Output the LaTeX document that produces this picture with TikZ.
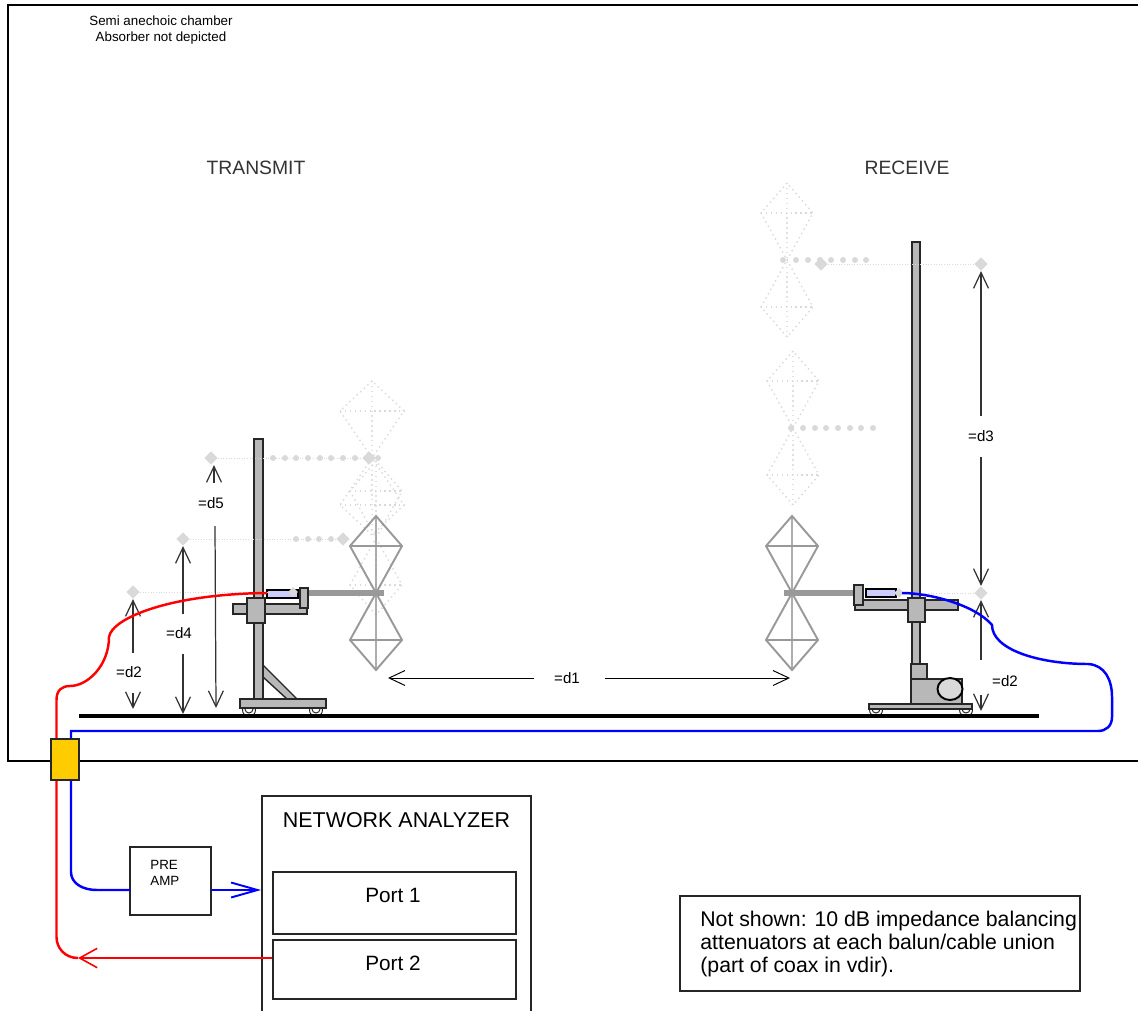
\documentclass[tikz,border=0pt]{standalone}
\usepackage{fontspec}
\setmainfont{Liberation Sans}
\usetikzlibrary{arrows.meta,shapes.geometric}
\definecolor{partgray}{HTML}{B8B8B8}
\definecolor{fadegray}{HTML}{D9D9D9}
\definecolor{balunblue}{HTML}{CCCCFF}
\definecolor{feedyellow}{HTML}{FFCC00}
\tikzset{
	part/.style={draw=black!85, fill=partgray, line width=0.8pt},
	wheel/.style={draw=black!85, line width=0.55pt},
	boxline/.style={draw=black!85, line width=1.1pt, inner sep=0pt},
	fadedant/.style={draw=fadegray, line width=0.8pt, dotted},
	solidant/.style={draw=black!40, line width=1.1pt},
	guide/.style={draw=fadegray, line width=0.5pt, densely dotted},
	marker/.style={diamond, fill=fadegray, inner sep=0pt, minimum size=0.27cm},
	dimline/.style={draw=black!80, line width=0.7pt, -{Straight Barb[length=9pt,width=8.5pt]}},
	dimtext/.style={font=\fontsize{8.6pt}{10pt}\selectfont},
	bigtext/.style={font=\fontsize{11.8pt}{13pt}\selectfont},
	headtext/.style={font=\fontsize{11pt}{13pt}\selectfont, text=black!80},
	redcable/.style={draw=red, line width=1.4pt},
	bluecable/.style={draw=blue, line width=1.4pt}
}

\begin{document}
\begin{tikzpicture}[x=0.02cm, y=-0.02cm, line cap=butt, line join=miter]
	\useasboundingbox (0,0) rectangle (1138,1010);
	
	% Chamber, open past the right edge
	\draw[line width=1.1pt] (1150,5) -- (8,5) -- (8,761) -- (1150,761);
	\node[font=\fontsize{7.6pt}{9.1pt}\selectfont, align=center] (chamber) at (161,30) {Semi anechoic chamber\\Absorber not depicted};
	\node[headtext] (transmit) at (256,168) {TRANSMIT};
	\node[headtext] (receive) at (907,168) {RECEIVE};
	
	% Biconical antennas, the raised positions first
	\foreach \cx/\cy/\hw/\kind in {372/458/32/fadedant, 376/538/26/fadedant, 787/260/26/fadedant, 793/428/26/fadedant, 376/593/26/solidant, 792/593/26/solidant} {
		\draw[\kind] (\cx,\cy-77) -- (\cx-\hw,\cy-47) -- (\cx+\hw,\cy+47) -- (\cx,\cy+77) -- (\cx-\hw,\cy+47) -- (\cx+\hw,\cy-47) -- cycle;
		\draw[\kind] (\cx-\hw,\cy-47) -- (\cx+\hw,\cy-47);
		\draw[\kind] (\cx-\hw,\cy+47) -- (\cx+\hw,\cy+47);
		\draw[\kind, draw opacity=0.8, line width=0.7pt] (\cx,\cy-77) -- (\cx,\cy+77);
	}
	
	% Transmit stand
	\foreach \wx in {249,316} {
		\draw[wheel, fill=white] (\wx,710) circle [radius=6.5];
		\draw[wheel] (\wx,709) circle [radius=4];
	}
	\draw[part] (263,665) -- (297,699) -- (287,699) -- (263,677) -- cycle;
	\draw[part] (254,439) rectangle (263,700);
	\draw[part] (240,699) rectangle (326,708);
	\draw[part] (233,604) rectangle (307,614);
	\draw[part] (247,598) rectangle (265,623);
	\draw[fill=balunblue, line width=0.8pt] (267,590) rectangle (298,598);
	\fill[black!40] (308,590) rectangle (384,596);
	\draw[part] (300,588) rectangle (308,608);
	
	% Receive stand
	\foreach \wx in {876,966} {
		\draw[wheel, fill=white] (\wx,710) circle [radius=6.5];
		\draw[wheel] (\wx,709) circle [radius=4];
	}
	\draw[part] (912,242) rectangle (920,665);
	\draw[part] (855,600) rectangle (958,610);
	\draw[fill=balunblue, line width=0.8pt] (866,589) rectangle (896,597);
	\fill[black!40] (784,590) rectangle (855,596);
	\draw[part] (854,585) rectangle (863,605);
	\draw[part] (908,598) rectangle (925,622);
	\draw[part] (911,664) rectangle (927,679);
	\draw[part] (911,679) rectangle (962,704);
	\draw[part] (869,704) rectangle (972,709);
	\draw[fill=fadegray, line width=1.1pt] (950,689) ellipse [x radius=12.5, y radius=11];
	
	% Floor
	\draw[line width=2.3pt] (79,716) -- (1039,716);
	
	% Height markers and their guides
	\node[marker] (mtwo) at (133,592) {};
	\node[marker] (mfour) at (183,539) {};
	\node[marker] (mfive) at (211,458) {};
	\node[marker] (mfiveant) at (369,458) {};
	\node[marker] (mfourant) at (343,539) {};
	\node[marker] (mthree) at (981,264) {};
	\node[marker] (mthreeant) at (821,264) {};
	\node[marker] (mtworx) at (981,593) {};
	\node[marker, minimum size=0.2cm] (mbalun) at (899,593) {};
	\node[marker, minimum size=0.2cm] (mbaluntx) at (293,592) {};
	\draw[guide] (mtwo) -- (267,592);
	\draw[guide] (mfour) -- (mfourant);
	\draw[guide] (mfive) -- (mfiveant);
	\draw[guide] (mthreeant) -- (mthree);
	\draw[guide] (mbalun) -- (mtworx);
	\foreach \dx in {296,308,319,331} {
		\fill[fadegray] (\dx,539) circle [radius=3];
	}
	\foreach \dx in {273,285,296,308,320,331,343,355,378} {
		\fill[fadegray] (\dx,458) circle [radius=3];
	}
	\foreach \dx in {783,796,808,820,831,843,855,866} {
		\fill[fadegray] (\dx,260) circle [radius=3];
	}
	\foreach \dx in {791,803,815,826,838,850,861,873} {
		\fill[fadegray] (\dx,428) circle [radius=3];
	}
	
	% Distances
	\node[dimtext] (dtwo) at (129,672) {=d2};
	\node[dimtext] (dfour) at (179,633) {=d4};
	\node[dimtext] (dfive) at (211,503) {=d5};
	\node[dimtext] (dthree) at (981,436) {=d3};
	\node[dimtext] (dtworx) at (1005,681) {=d2};
	\node[dimtext] (done) at (567,678) {=d1};
	\draw[dimline] (133,653) -- (mtwo);
	\draw[dimline] (133,693) -- (133,709);
	\draw[dimline] (183,614) -- (mfour);
	\draw[dimline] (183,654) -- (183,714);
	\draw[dimline] (214,483) -- (mfive.south -| 214,0);
	\draw[dimline] (215,526) -- (216,708);
	\draw[dimline] (981,416) -- (mthree);
	\draw[dimline] (981,457) -- (mtworx);
	\draw[dimline] (981,660) -- (mtworx);
	\draw[dimline] (981,695) -- (981,711);
	\draw[dimline, draw=black, line width=0.55pt] (534,678) -- (388,678);
	\draw[dimline, draw=black, line width=0.55pt] (605,678) -- (790,678);
	
	% Feedthrough, analyzer and preamp
	\node[boxline, fill=feedyellow, minimum width=0.56cm, minimum height=0.82cm] (feed) at (65,759.5) {};
	\node[boxline, minimum width=5.38cm, minimum height=4.4cm] (analyzer) at (396.5,906) {};
	\node[font=\fontsize{12.2pt}{14pt}\selectfont] (analyzertext) at (396.5,820) {NETWORK ANALYZER};
	\node[boxline, minimum width=4.86cm, minimum height=1.24cm] (portone) at (394.5,903) {};
	\node[boxline, minimum width=4.86cm, minimum height=1.18cm] (porttwo) at (394.5,969.5) {};
	\node[bigtext] (portonetext) at (393,895) {Port 1};
	\node[bigtext] (porttwotext) at (393,963) {Port 2};
	\node[boxline, minimum width=1.62cm, minimum height=1.36cm] (preamp) at (170.5,881) {};
	\node[font=\fontsize{7.6pt}{9.1pt}\selectfont, align=left, anchor=west, inner sep=0pt] (preamptext) at (150,873) {PRE\\AMP};
	
	% Note
	\node[boxline, minimum width=8cm, minimum height=1.9cm] (note) at (880,943.5) {};
	\node[font=\fontsize{12.1pt}{13.2pt}\selectfont, align=left, anchor=west, inner sep=0pt] (notetext) at (700,944) {Not shown: 10 dB impedance balancing\\attenuators at each balun/cable union\\(part of coax in vdir).};
	
	% Cables
	\coordinate (rxbalun) at (902,593);
	\coordinate (txbalun) at (267,593);
	\coordinate (redrise) at (56.5,700);
	\coordinate (redlow) at (56.5,937);
	\coordinate (redend) at (78,958);
	\coordinate (bluerun) at (71,731);
	\coordinate (bluelow) at (71,872);
	\coordinate (preampin) at (130,890);
	\coordinate (preampout) at (211,890);
	\draw[redcable] (redrise |- feed.north) -- (redrise)
	.. controls (56.5,690) and (62,686) .. (70,686)
	.. controls (88,686) and (109,665) .. (109,637)
	.. controls (112,618) and (170,594) .. (txbalun);
	\draw[bluecable] (rxbalun) .. controls (930,593) and (975,605) .. (992,625)
	.. controls (992,650) and (1040,664) .. (1088,664)
	.. controls (1105,665) and (1112,680) .. (1112,697)
	-- (1112,717) .. controls (1112,726) and (1106,731) .. (1098,731)
	-- (bluerun) -- (bluerun |- feed.north);
	\draw[bluecable] (bluerun |- feed.south) -- (bluelow)
	.. controls (71,883) and (82,890) .. (97,890) -- (preampin);
	\draw[bluecable, -{Straight Barb[length=15pt,width=8.5pt]}, line width=1.1pt] (preampout) -- (preampout -| analyzer.west);
	\draw[redcable] (redrise |- feed.south) -- (redlow) .. controls (56.5,948) and (65,958) .. (redend);
	\draw[redcable, line width=0.9pt, -{Straight Barb[length=10pt,width=11pt]}] (porttwo.west |- redend) -- (redend);
\end{tikzpicture}
\end{document}
